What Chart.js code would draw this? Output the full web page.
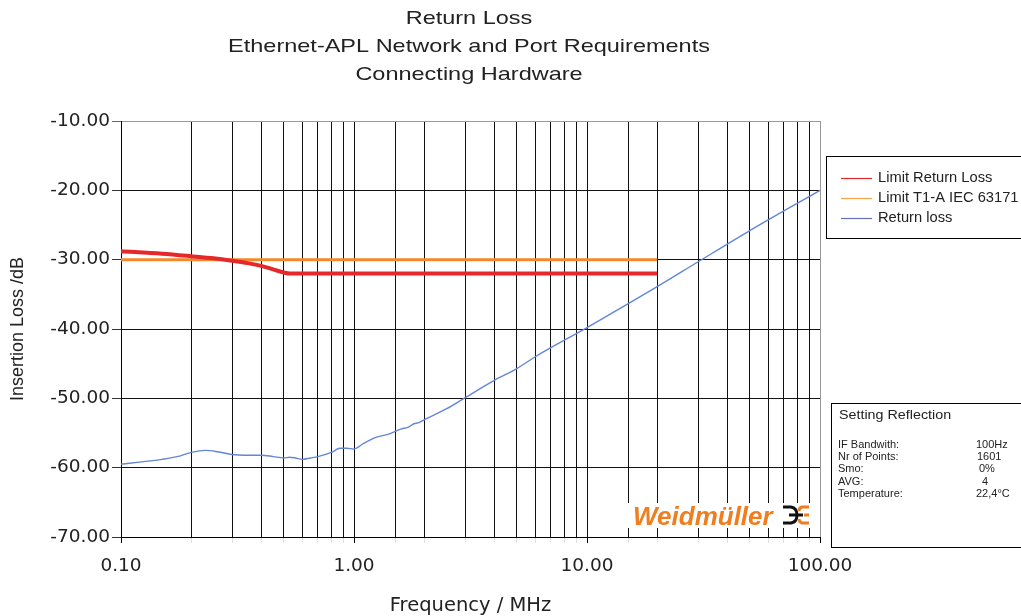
<!DOCTYPE html>
<html>
<head>
<meta charset="utf-8">
<script src="https://cdn.jsdelivr.net/npm/chart.js@4.4.1/dist/chart.umd.min.js"></script>
<style>
  html, body { margin: 0; padding: 0; background: #fff; }
  #wrap { width: 1021px; height: 616px; }
</style>
</head>
<body>
<div id="wrap"><canvas id="c" width="1021" height="616"></canvas></div>
<script>
// ---- Data ----
const titleLines = ['Return Loss', 'Ethernet-APL Network and Port Requirements', 'Connecting Hardware'];
const xAxisTitle = 'Frequency / MHz';
const yAxisTitle = 'Insertion Loss /dB';
const seriesNames = ['Limit Return Loss', 'Limit T1-A IEC 63171', 'Return loss'];

const limitRLFreq   = [0.1, 0.15, 0.2, 0.25, 0.3, 0.35, 0.4, 0.45, 0.5, 0.53, 20];
const limitRLValues = [-28.8, -29.15, -29.5, -29.8, -30.15, -30.5, -30.9, -31.4, -31.85, -32.0, -32.0];

const limitT1Freq   = [0.1, 20];
const limitT1Values = [-30, -30];

const rlFreq   = [0.1, 0.12, 0.15, 0.18, 0.2, 0.23, 0.26, 0.3, 0.35, 0.4, 0.45, 0.5, 0.53, 0.56, 0.6, 0.65, 0.7, 0.8, 0.87, 0.93, 1.0, 1.1, 1.25, 1.4, 1.6, 1.7, 1.8, 1.9, 2.0, 2.5, 3.0, 4.0, 5.0, 6.0, 10, 20, 30, 50, 100];
const rlValues = [-59.5, -59.2, -58.8, -58.3, -57.8, -57.5, -57.7, -58.1, -58.2, -58.2, -58.4, -58.6, -58.5, -58.6, -58.8, -58.6, -58.4, -57.8, -57.2, -57.2, -57.3, -56.5, -55.6, -55.2, -54.4, -54.2, -53.7, -53.5, -53.1, -51.5, -49.9, -47.4, -45.7, -44.0, -39.8, -33.9, -30.3, -25.8, -20.0];

const settingsTitle = 'Setting Reflection';
const settingsLabels = ['IF Bandwith:', 'Nr of Points:', 'Smo:', 'AVG:', 'Temperature:'];
const settingsValues = ['100Hz', '1601', '0%', '4', '22,4°C'];
const logoText = 'Weidmüller';

const colors = ['#e6282b', '#f28a2c', '#6386d8'];
const legendColors = ['#e6282b', '#f7a54a', '#6670b4'];
const FONT = "'Liberation Sans', Arial, sans-serif";
const WIDE = "'DejaVu Sans', sans-serif";

function toXY(xs, ys) { return xs.map((x, i) => ({ x: x, y: ys[i] })); }
function isDecade(v) { const l = Math.log10(v); return Math.abs(l - Math.round(l)) < 1e-6; }

// draw text horizontally stretched by sx, anchored at x with given align
function stretchText(ctx, text, x, y, sx, align) {
  ctx.save();
  ctx.translate(x, y);
  ctx.scale(sx, 1);
  ctx.textAlign = align;
  ctx.fillText(text, 0, 0);
  ctx.restore();
}

const decor = {
  id: 'decor',
  afterDraw(chart) {
    const ctx = chart.ctx;
    ctx.save();
    // Title
    ctx.fillStyle = '#222';
    ctx.font = '18.5px ' + FONT;
    ctx.textBaseline = 'middle';
    titleLines.forEach((t, i) => stretchText(ctx, t, 469, 19 + i * 28, 1.27, 'center'));

    // Legend box
    ctx.fillStyle = '#fff';
    ctx.fillRect(826.5, 156.5, 200, 82);
    ctx.strokeStyle = '#000';
    ctx.lineWidth = 1;
    ctx.strokeRect(826.5, 156.5, 200, 82);
    ctx.font = '14px ' + FONT;
    ctx.textBaseline = 'middle';
    seriesNames.forEach((n, i) => {
      const y = 178 + i * 20;
      ctx.strokeStyle = legendColors[i];
      ctx.lineWidth = 1.2;
      ctx.beginPath(); ctx.moveTo(841, y + 0.5); ctx.lineTo(872, y + 0.5); ctx.stroke();
      ctx.fillStyle = '#222';
      stretchText(ctx, n, 878, y, 1.05, 'left');
    });

    // Settings box
    ctx.fillStyle = '#fff';
    ctx.fillRect(831.5, 403.5, 200, 144);
    ctx.strokeStyle = '#000';
    ctx.lineWidth = 1;
    ctx.strokeRect(831.5, 403.5, 200, 144);
    ctx.fillStyle = '#222';
    ctx.font = '13px ' + FONT;
    stretchText(ctx, settingsTitle, 839, 415, 1.1, 'left');
    ctx.font = '11px ' + FONT;
    settingsLabels.forEach((l, i) => {
      const y = 445 + i * 12.2;
      ctx.fillText(l, 838, y);
      ctx.fillText(settingsValues[i], [976, 977, 979, 982, 976][i], y);
    });

    // Logo
    ctx.fillStyle = '#fff';
    ctx.fillRect(628, 503, 185, 25);
    ctx.fillStyle = '#f07d1e';
    ctx.font = 'italic bold 25px ' + FONT;
    ctx.textBaseline = 'alphabetic';
    stretchText(ctx, logoText, 633, 525, 1.04, 'left');
    ctx.lineWidth = 3;
    ctx.lineCap = 'butt';
    ctx.strokeStyle = '#111';
    ctx.beginPath();
    ctx.moveTo(783, 507); ctx.lineTo(791, 507);
    ctx.quadraticCurveTo(797, 508, 797, 515);
    ctx.quadraticCurveTo(797, 522, 791, 523);
    ctx.lineTo(783, 523);
    ctx.moveTo(789, 515); ctx.lineTo(803, 515);
    ctx.stroke();
    ctx.strokeStyle = '#f07d1e';
    ctx.beginPath();
    ctx.moveTo(809, 507); ctx.lineTo(802, 507); ctx.quadraticCurveTo(799, 508, 799, 511);
    ctx.moveTo(809, 523); ctx.lineTo(802, 523); ctx.quadraticCurveTo(799, 522, 799, 519);
    ctx.moveTo(804, 515); ctx.lineTo(809, 515);
    ctx.stroke();
    ctx.restore();
  }
};

new Chart(document.getElementById('c'), {
  type: 'line',
  data: {
    datasets: [
      { label: seriesNames[0], data: toXY(limitRLFreq, limitRLValues), borderColor: colors[0], borderWidth: 4, pointRadius: 0, cubicInterpolationMode: 'monotone' },
      { label: seriesNames[1], data: toXY(limitT1Freq, limitT1Values), borderColor: colors[1], borderWidth: 3, pointRadius: 0 },
      { label: seriesNames[2], data: toXY(rlFreq, rlValues), borderColor: colors[2], borderWidth: 1.4, pointRadius: 0, cubicInterpolationMode: 'monotone' }
    ]
  },
  options: {
    responsive: false,
    animation: false,
    devicePixelRatio: 1,
    layout: { padding: { top: 121, left: 0, right: 201, bottom: 0 } },
    plugins: { legend: { display: false }, tooltip: { enabled: false }, title: { display: false } },
    scales: {
      x: {
        type: 'logarithmic',
        min: 0.1, max: 100,
        afterFit: s => { s.height = 79; },
        border: { display: true, color: '#000', width: 1 },
        grid: {
          color: c => (c.tick && c.tick.value >= 99.99) ? '#999' : '#111',
          tickColor: c => (c.tick && isDecade(c.tick.value)) ? '#000' : 'rgba(0,0,0,0.12)',
          tickLength: 6,
          lineWidth: 1
        },
        ticks: {
          autoSkip: false, maxRotation: 0, minRotation: 0,
          padding: 12,
          color: '#222',
          font: { family: WIDE, size: 18.5 },
          callback: v => isDecade(v) ? Number(v).toFixed(2) : ''
        },
        title: { display: true, text: xAxisTitle, color: '#222', font: { family: WIDE, size: 19.5, lineHeight: 1.05 }, padding: { top: 0, bottom: 0 } }
      },
      y: {
        type: 'linear',
        min: -70, max: -10,
        afterFit: s => { s.width = 121; },
        border: { display: true, color: '#000', width: 1 },
        grid: {
          color: c => (c.tick && c.tick.value === -10) ? '#999' : '#111',
          tickColor: c => (c.tick && c.tick.value === -10) ? '#666' : '#333',
          tickLength: 9,
          lineWidth: 1
        },
        ticks: {
          stepSize: 10,
          padding: 2,
          color: '#222',
          font: { family: WIDE, size: 18.5 },
          callback: v => Number(v).toFixed(2)
        },
        title: { display: true, text: yAxisTitle, color: '#222', font: { family: FONT, size: 18 }, padding: { top: 7, bottom: 0 } }
      }
    }
  },
  plugins: [decor]
});
</script>
</body>
</html>
